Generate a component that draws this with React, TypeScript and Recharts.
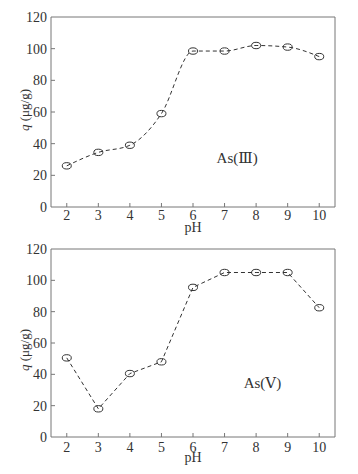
import { LineChart, Line, XAxis, YAxis, ReferenceDot } from 'recharts';

const pH = [2, 3, 4, 5, 6, 7, 8, 9, 10];
const as3 = [26, 34.5, 39, 59, 98.5, 98.5, 102, 101, 95];
const as5 = [50.5, 18, 40.5, 48, 95.5, 105, 105, 105, 82.5];
const yTicks = [0, 20, 40, 60, 80, 100, 120];

const ink = '#333';
const axisColor = '#777';
const font = '"Liberation Serif", "DejaVu Serif", serif';

const YTick = (props: any) => {
  const { x, y, payload } = props;
  return (
    <g>
      {payload.value !== 0 && payload.value !== 120 && (
        <line x1={x} x2={x + 4} y1={y} y2={y} stroke={axisColor} />
      )}
      <text x={x - 4} y={y + 5} textAnchor="end" fontSize={14} fill={ink} fontFamily={font}>
        {payload.value}
      </text>
    </g>
  );
};

const Marker = (props: any) => {
  const { cx, cy } = props;
  if (cx == null || cy == null) return null;
  return <ellipse cx={cx} cy={cy} rx={4.5} ry={3.2} fill="none" stroke={ink} strokeWidth={1} />;
};

function Panel({ values, label, labelX, labelY, top, height, margin, curve, yLabelY, xLabelY, tickDy }: any) {
  const data = pH.map((p, i) => ({ pH: p, q: values[i] }));
  const XTick = (props: any) => {
    const { x, y, payload } = props;
    return (
      <g>
        <line x1={x} x2={x} y1={y} y2={y - 4} stroke={axisColor} />
        <text x={x} y={y + tickDy} textAnchor="middle" fontSize={14} fill={ink} fontFamily={font}>
          {payload.value}
        </text>
      </g>
    );
  };
  return (
    <div style={{ position: 'absolute', left: 0, top }}>
      <LineChart width={358} height={height} data={data} margin={margin}>
        <XAxis
          dataKey="pH"
          type="number"
          domain={[1.5, 10.5]}
          ticks={pH}
          interval={0}
          tickSize={0}
          tickMargin={0}
          tick={<XTick />}
          axisLine={{ stroke: axisColor }}
          height={1}
        />
        <XAxis xAxisId="top" orientation="top" dataKey="pH" type="number" domain={[1.5, 10.5]} tick={false} tickLine={false} axisLine={{ stroke: axisColor }} height={1} />
        <YAxis
          domain={[0, 120]}
          ticks={yTicks}
          interval={0}
          tickSize={0}
          tickMargin={0}
          tick={<YTick />}
          axisLine={{ stroke: axisColor }}
          width={1}
        />
        <YAxis yAxisId="right" orientation="right" domain={[0, 120]} tick={false} tickLine={false} axisLine={{ stroke: axisColor }} width={1} />
        <Line
          dataKey="q"
          type={curve}
          stroke={ink}
          strokeWidth={1}
          strokeDasharray="4 3"
          dot={<Marker />}
          activeDot={false}
          isAnimationActive={false}
        />
        <ReferenceDot
          x={labelX}
          y={labelY}
          r={0}
          fill="none"
          stroke="none"
          label={{ value: label, position: 'center', fontSize: 15, fill: ink, fontFamily: font }}
        />
        <text x={29} y={yLabelY} transform={`rotate(-90 29 ${yLabelY})`} textAnchor="middle" fontSize={13} fill={ink} fontFamily={font}>
          <tspan fontStyle="italic">q</tspan>
          <tspan> (μg/g)</tspan>
        </text>
        <text x={193} y={xLabelY} textAnchor="middle" fontSize={14} fill={ink} fontFamily={font}>
          pH
        </text>
      </LineChart>
    </div>
  );
}

export default function App() {
  return (
    <div style={{ position: 'absolute', left: 0, top: 0, width: 358, height: 474, background: '#fff' }}>
      <Panel values={as3} label="As(Ⅲ)" labelX={7.4} labelY={31} top={0} height={240} curve="monotone" tickDy={13}
        yLabelY={110} xLabelY={232} margin={{ top: 16, right: 22, bottom: 32, left: 50 }} />
      <Panel values={as5} label="As(Ⅴ)" labelX={8.2} labelY={34.5} top={235} height={239} curve="linear" tickDy={15}
        yLabelY={115} xLabelY={227} margin={{ top: 13, right: 22, bottom: 36, left: 50 }} />
    </div>
  );
}
